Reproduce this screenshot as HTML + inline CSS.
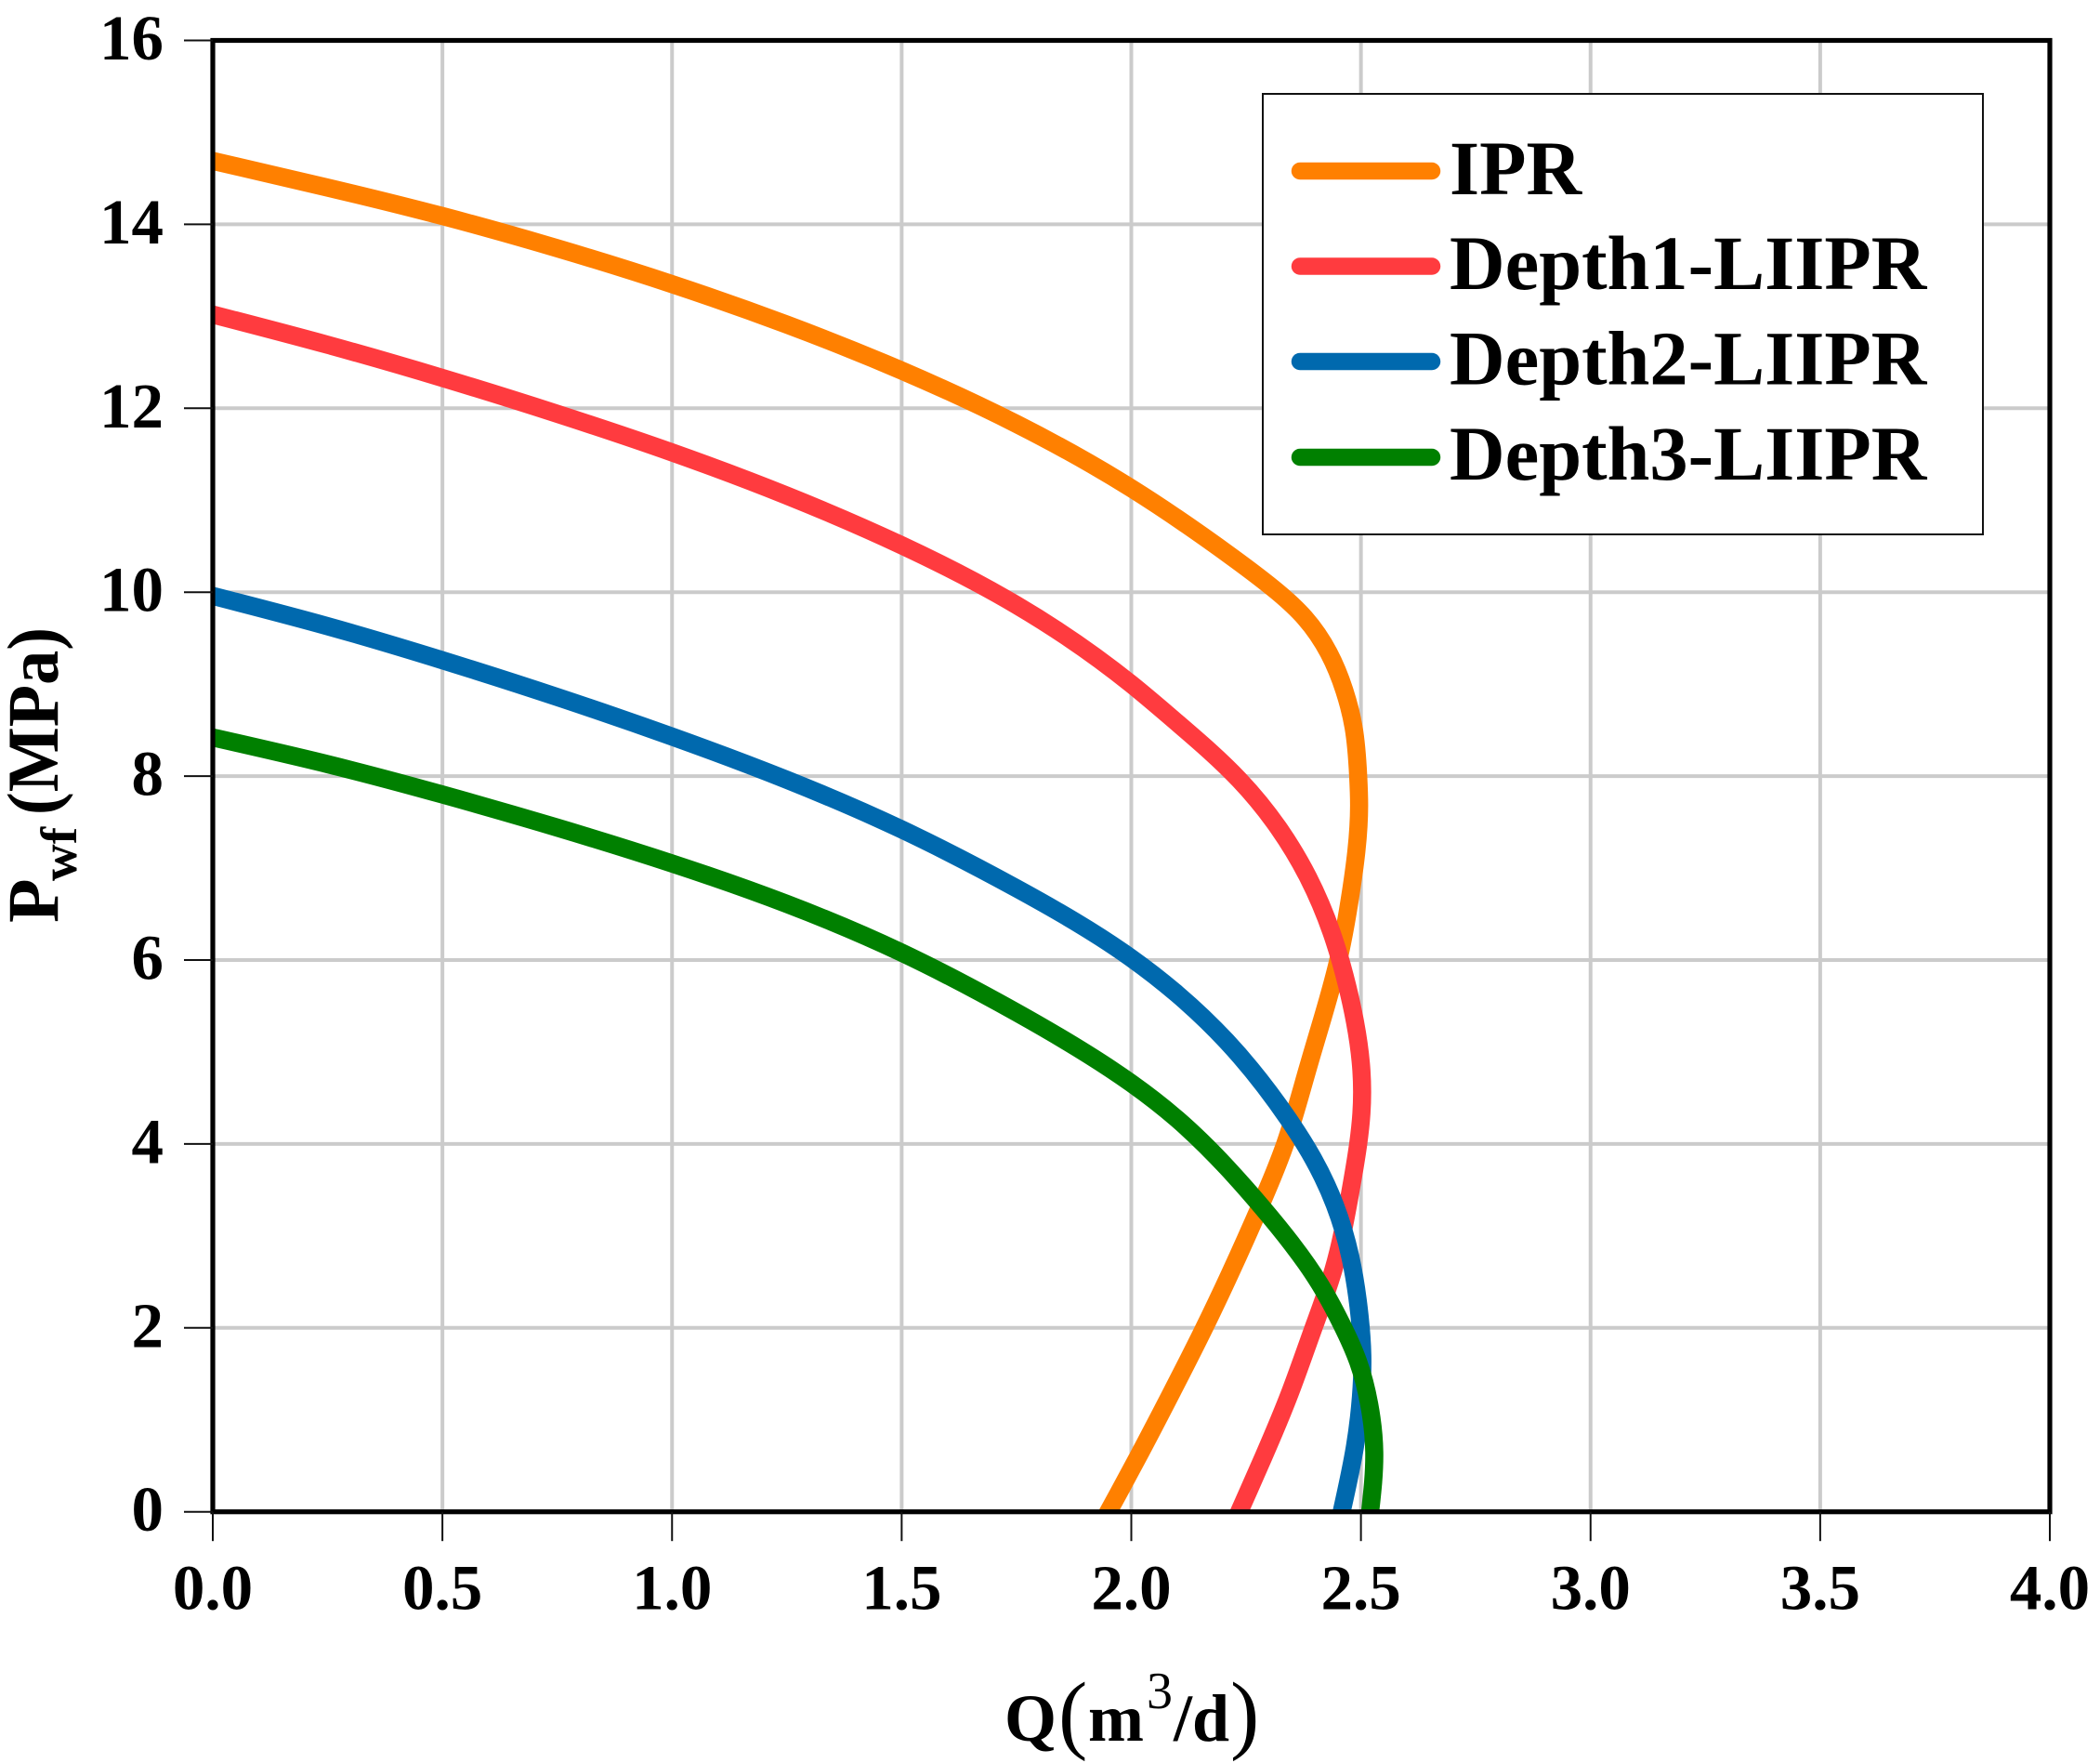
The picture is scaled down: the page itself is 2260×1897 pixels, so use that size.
<!DOCTYPE html>
<html lang="en">
<head>
<meta charset="utf-8">
<title>IPR and LIIPR curves</title>
<style>
  html, body { margin: 0; padding: 0; background: #fff; }
  svg { display: block; }
  text { font-family: "Liberation Serif", serif; font-weight: bold; fill: #000; }
</style>
</head>
<body>
<svg id="chart" xmlns="http://www.w3.org/2000/svg" width="2260" height="1897" viewBox="0 0 2260 1897">
  <rect x="0" y="0" width="2260" height="1897" fill="#fff"/>
  <defs>
    <clipPath id="plot-clip"><rect x="229" y="43.5" width="1977" height="1583.2"/></clipPath>
  </defs>
  <g id="grid"></g>
  <g id="series" clip-path="url(#plot-clip)"></g>
  <rect x="229" y="43.5" width="1977" height="1583.2" fill="none" stroke="#000" stroke-width="5.2"/>
  <g id="ticks"></g>

  <g>
    <text x="1081" y="1873" font-size="72">Q</text>
    <text x="1139" y="1875" font-size="94" style="font-weight:normal">(</text>
    <text x="1171" y="1873" font-size="72">m</text>
    <text x="1234" y="1838" font-size="56" style="font-weight:normal">3</text>
    <text x="1263" y="1873" font-size="72">/d</text>
    <text x="1324" y="1875" font-size="94" style="font-weight:normal">)</text>
  </g>

  <g transform="translate(62,993) rotate(-90)">
    <text x="0" y="0" font-size="78">P</text>
    <text x="45" y="20" font-size="55">wf</text>
    <text x="116" y="0" font-size="78" textLength="202" lengthAdjust="spacingAndGlyphs">(MPa)</text>
  </g>

  <g>
    <rect x="1359" y="101" width="775" height="474" fill="#fff" stroke="#111" stroke-width="2"/>
    <g>
      <line x1="1399" y1="184" x2="1541" y2="184" stroke="#ff8000" stroke-width="18.5" stroke-linecap="round"/>
      <text x="1560" y="209" font-size="82.5">IPR</text>
    </g>
    <g>
      <line x1="1399" y1="286.5" x2="1541" y2="286.5" stroke="#ff3b3f" stroke-width="18.5" stroke-linecap="round"/>
      <text x="1560" y="311" font-size="82.5">Depth1-LIIPR</text>
    </g>
    <g>
      <line x1="1399" y1="389" x2="1541" y2="389" stroke="#0069ae" stroke-width="18.5" stroke-linecap="round"/>
      <text x="1560" y="413.5" font-size="82.5">Depth2-LIIPR</text>
    </g>
    <g>
      <line x1="1399" y1="492" x2="1541" y2="492" stroke="#008000" stroke-width="18.5" stroke-linecap="round"/>
      <text x="1560" y="516" font-size="82.5">Depth3-LIIPR</text>
    </g>
  </g>
</svg>
<script>
var xTickLabels = ['0.0', '0.5', '1.0', '1.5', '2.0', '2.5', '3.0', '3.5', '4.0'];
var yTickLabels = ['0', '2', '4', '6', '8', '10', '12', '14', '16'];

var iprQ = [0, 0.25, 0.5, 0.75, 1.0, 1.25, 1.5, 1.75, 2.0, 2.22, 2.319, 2.378, 2.43, 2.464, 2.484, 2.494, 2.496, 2.49, 2.476, 2.454, 2.416, 2.383, 2.335, 2.282, 2.214, 2.153, 2.086, 2.015, 1.95];
var iprP = [14.69, 14.4, 14.09, 13.74, 13.35, 12.91, 12.41, 11.83, 11.13, 10.38, 10.0, 9.72, 9.34, 8.93, 8.53, 8.0, 7.68, 7.18, 6.67, 6.07, 5.36, 4.8, 4.0, 3.34, 2.58, 1.94, 1.28, 0.6, 0];

var depth1Q = [0, 0.25, 0.5, 0.75, 1.0, 1.25, 1.5, 1.75, 2.0, 2.1, 2.235, 2.32, 2.385, 2.436, 2.47, 2.487, 2.501, 2.501, 2.494, 2.477, 2.44, 2.396, 2.346, 2.288, 2.235];
var depth1P = [13.02, 12.69, 12.33, 11.94, 11.52, 11.05, 10.51, 9.86, 9.0, 8.58, 7.96, 7.44, 6.9, 6.3, 5.72, 5.33, 4.8, 4.33, 4.0, 3.48, 2.63, 1.99, 1.3, 0.6, 0];

var depth2Q = [0, 0.25, 0.5, 0.75, 1.0, 1.25, 1.5, 1.75, 2.0, 2.1, 2.207, 2.342, 2.396, 2.443, 2.477, 2.497, 2.503, 2.5, 2.487, 2.458];
var depth2P = [9.96, 9.63, 9.26, 8.86, 8.43, 7.96, 7.42, 6.78, 6.02, 5.63, 5.12, 4.27, 3.84, 3.34, 2.77, 2.13, 1.7, 1.25, 0.71, 0];

var depth3Q = [0, 0.25, 0.5, 0.75, 1.0, 1.25, 1.5, 1.75, 2.0, 2.1, 2.207, 2.285, 2.35, 2.41, 2.457, 2.494, 2.518, 2.529, 2.52];
var depth3P = [8.42, 8.13, 7.8, 7.44, 7.05, 6.61, 6.08, 5.43, 4.66, 4.27, 3.75, 3.31, 2.91, 2.48, 2.05, 1.63, 1.17, 0.65, 0];

var NS = 'http://www.w3.org/2000/svg';
function xScale(q) { return 229 + (q / 4) * 1977; }
function yScale(p) { return 1626.7 - (p / 16) * 1583.2; }

function secondDerivatives(t, v) {
  var n = v.length;
  var c = new Array(n).fill(0);
  var d = new Array(n).fill(0);
  var m = new Array(n).fill(0);
  for (var i = 1; i < n - 1; i++) {
    var h0 = t[i] - t[i - 1];
    var h1 = t[i + 1] - t[i];
    var b = 2 * (h0 + h1) - h0 * c[i - 1];
    c[i] = h1 / b;
    d[i] = (6 * ((v[i + 1] - v[i]) / h1 - (v[i] - v[i - 1]) / h0) - h0 * d[i - 1]) / b;
  }
  for (var j = n - 2; j > 0; j--) {
    m[j] = d[j] - c[j] * m[j + 1];
  }
  return m;
}

function smoothPath(qs, ps) {
  var xs = qs.map(xScale);
  var ys = ps.map(yScale);
  var t = [0];
  for (var i = 1; i < xs.length; i++) {
    t.push(t[i - 1] + Math.hypot(xs[i] - xs[i - 1], ys[i] - ys[i - 1]));
  }
  var mx = secondDerivatives(t, xs);
  var my = secondDerivatives(t, ys);
  var d = 'M' + xs[0].toFixed(1) + ' ' + ys[0].toFixed(1);
  for (var k = 0; k < xs.length - 1; k++) {
    var h = t[k + 1] - t[k];
    var dx0 = (xs[k + 1] - xs[k]) / h - h * (2 * mx[k] + mx[k + 1]) / 6;
    var dx1 = (xs[k + 1] - xs[k]) / h + h * (mx[k] + 2 * mx[k + 1]) / 6;
    var dy0 = (ys[k + 1] - ys[k]) / h - h * (2 * my[k] + my[k + 1]) / 6;
    var dy1 = (ys[k + 1] - ys[k]) / h + h * (my[k] + 2 * my[k + 1]) / 6;
    d += 'C' + (xs[k] + dx0 * h / 3).toFixed(2) + ' ' + (ys[k] + dy0 * h / 3).toFixed(2) + ' ' +
         (xs[k + 1] - dx1 * h / 3).toFixed(2) + ' ' + (ys[k + 1] - dy1 * h / 3).toFixed(2) + ' ' +
         xs[k + 1].toFixed(2) + ' ' + ys[k + 1].toFixed(2);
  }
  return d;
}

var gridG = document.getElementById('grid');
var ticksG = document.getElementById('ticks');
var seriesG = document.getElementById('series');

xTickLabels.forEach(function (label) {
  var q = parseFloat(label);
  var x = xScale(q);
  if (q > 0 && q < 4) {
    var g = document.createElementNS(NS, 'line');
    
    
    g.setAttribute('x1', x); g.setAttribute('x2', x);
    g.setAttribute('y1', yScale(16)); g.setAttribute('y2', yScale(0));
    g.setAttribute('stroke', '#cbcbcb'); g.setAttribute('stroke-width', '4');
    gridG.appendChild(g);
  }
  var t = document.createElementNS(NS, 'line');
  
  
  t.setAttribute('x1', x); t.setAttribute('x2', x);
  t.setAttribute('y1', yScale(0)); t.setAttribute('y2', yScale(0) + 31.5);
  t.setAttribute('stroke', '#111'); t.setAttribute('stroke-width', '2');
  ticksG.appendChild(t);
  var l = document.createElementNS(NS, 'text');
  
  
  l.setAttribute('x', x); l.setAttribute('y', 1731.5);
  l.setAttribute('font-size', '69'); l.setAttribute('text-anchor', 'middle');
  l.textContent = label;
  ticksG.appendChild(l);
});

yTickLabels.forEach(function (label) {
  var p = parseFloat(label);
  var y = yScale(p);
  if (p > 0 && p < 16) {
    var g = document.createElementNS(NS, 'line');
    
    
    g.setAttribute('x1', xScale(0)); g.setAttribute('x2', xScale(4));
    g.setAttribute('y1', y); g.setAttribute('y2', y);
    g.setAttribute('stroke', '#cbcbcb'); g.setAttribute('stroke-width', '4');
    gridG.appendChild(g);
  }
  var t = document.createElementNS(NS, 'line');
  
  
  t.setAttribute('x1', xScale(0) - 31); t.setAttribute('x2', xScale(0));
  t.setAttribute('y1', y); t.setAttribute('y2', y);
  t.setAttribute('stroke', '#111'); t.setAttribute('stroke-width', '2');
  ticksG.appendChild(t);
  var l = document.createElementNS(NS, 'text');
  
  
  l.setAttribute('x', 176); l.setAttribute('y', y + 20.5);
  l.setAttribute('font-size', '69'); l.setAttribute('text-anchor', 'end');
  l.textContent = label;
  ticksG.appendChild(l);
});

function addCurve(name, qs, ps, color) {
  var path = document.createElementNS(NS, 'path');
  
  
  path.setAttribute('d', smoothPath(qs, ps));
  path.setAttribute('fill', 'none');
  path.setAttribute('stroke', color);
  path.setAttribute('stroke-width', '19.5');
  path.setAttribute('stroke-linecap', 'square');
  path.setAttribute('stroke-linejoin', 'round');
  seriesG.appendChild(path);
}
addCurve('ipr-curve', iprQ, iprP, '#ff8000');
addCurve('depth1-curve', depth1Q, depth1P, '#ff3b3f');
addCurve('depth2-curve', depth2Q, depth2P, '#0069ae');
addCurve('depth3-curve', depth3Q, depth3P, '#008000');
</script>
</body>
</html>
